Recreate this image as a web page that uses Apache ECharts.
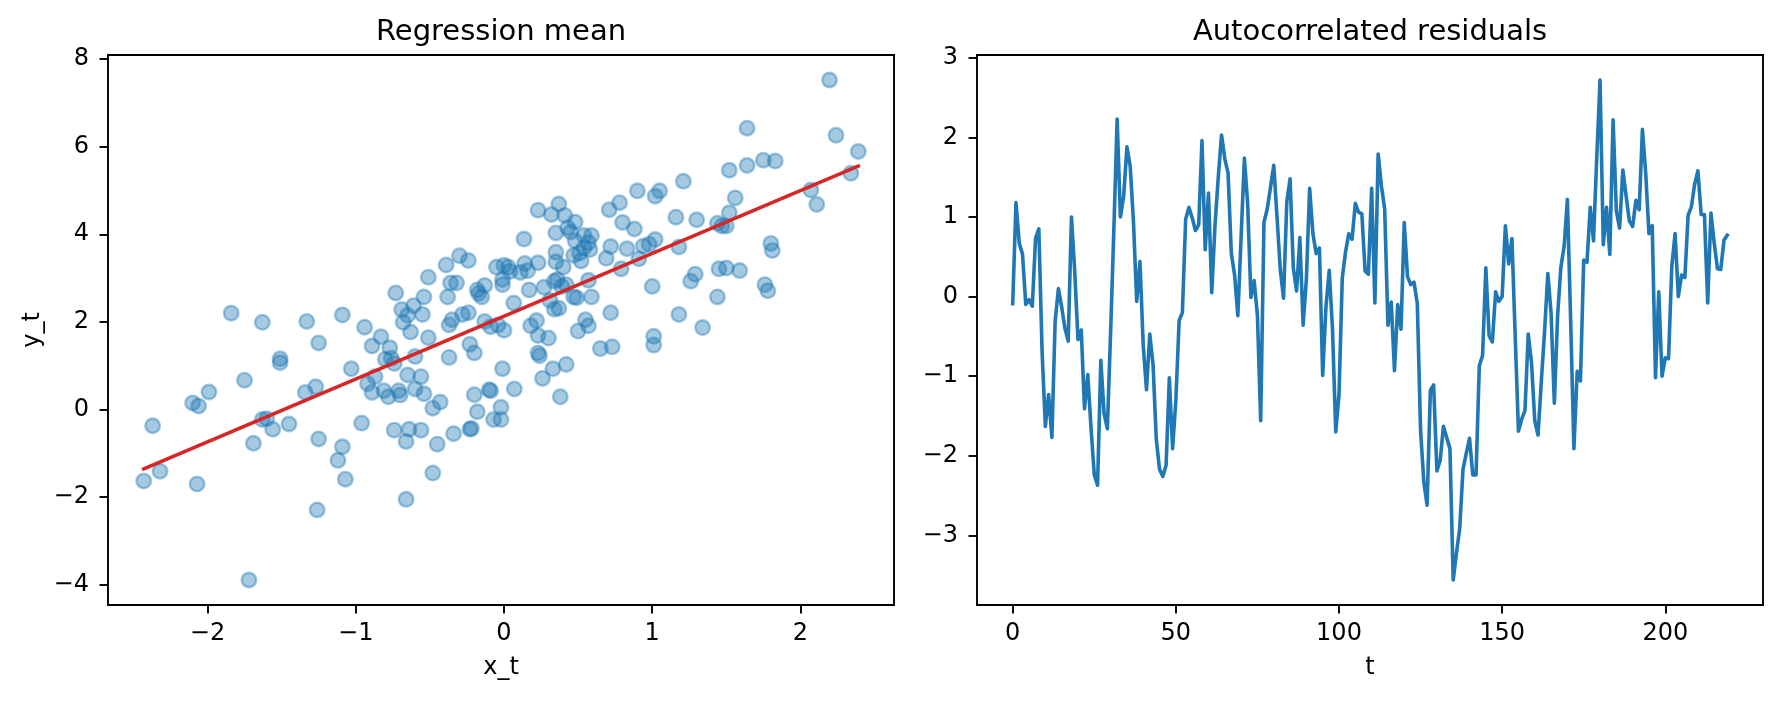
<!DOCTYPE html>
<html><head><meta charset="utf-8">
<script src="https://cdn.jsdelivr.net/npm/echarts@6/dist/echarts.min.js"></script>
<style>html,body{margin:0;padding:0;background:#fff}#c{width:1781px;height:701px}</style>
</head><body><div id="c"></div>
<script>
// ---- data ----
const scatterX = [
-2.43,-2.32,-2.37,-2.07,-2.10,-2.06,-1.99,-1.84,-1.75,-1.72,
-1.69,-1.63,-1.63,-1.60,-1.56,-1.51,-1.51,-1.45,-1.33,-1.34,
-1.27,-1.26,-1.25,-1.25,-1.09,-1.12,-1.09,-1.07,-1.03,-0.96,
-0.94,-0.89,-0.83,-0.92,-0.89,-0.87,-0.80,-0.77,-0.76,-0.74,
-0.81,-0.78,-0.71,-0.70,-0.74,-0.73,-0.69,-0.65,-0.68,-0.63,
-0.61,-0.65,-0.64,-0.66,-0.66,-0.60,-0.60,-0.56,-0.54,-0.56,
-0.54,-0.55,-0.51,-0.51,-0.48,-0.43,-0.45,-0.48,-0.39,-0.38,
-0.37,-0.37,-0.35,-0.36,-0.32,-0.30,-0.24,-0.28,-0.24,-0.34,
-0.23,-0.20,-0.20,-0.18,-0.22,-0.23,-0.18,-0.15,-0.13,-0.17,
-0.13,-0.09,-0.04,-0.01,-0.09,-0.10,-0.02,-0.07,-0.02,-0.05,
0.00,-0.01,-0.01,0.00,
2.196,1.64,2.24,2.39,1.52,1.64,1.75,1.83,2.34,1.21,
2.07,2.11,0.90,1.02,1.05,1.56,0.78,0.71,1.52,1.16,
1.30,1.44,1.47,1.50,0.80,0.88,0.23,0.37,0.32,0.41,
0.48,0.43,0.45,0.35,0.135,0.48,0.54,0.59,0.57,0.54,
0.58,0.51,0.52,0.47,0.35,0.35,0.40,0.34,0.36,0.39,
0.42,0.57,0.47,0.49,0.59,0.27,0.17,0.23,0.14,0.11,
0.16,0.03,0.04,0.066,0.31,0.34,0.37,0.69,0.72,0.83,
0.79,0.91,0.94,0.98,1.02,1.18,0.72,1.00,1.26,1.29,
1.18,1.34,1.44,1.45,1.50,1.59,1.76,1.78,1.80,1.81,
1.01,1.01,0.73,0.65,0.55,0.57,0.50,0.18,0.22,0.23,
0.30,0.23,0.24,0.07,0.33,0.42,0.26,0.38
];
const scatterY = [
-1.63,-1.41,-0.37,-1.70,0.15,0.08,0.40,2.20,0.67,-3.89,
-0.77,1.99,-0.23,-0.21,-0.45,1.16,1.07,-0.33,2.01,0.39,
0.52,-2.29,1.52,-0.67,2.16,-1.16,-0.85,-1.59,0.93,-0.31,
1.88,1.45,1.66,0.59,0.39,0.75,1.15,1.41,1.17,1.05,
0.43,0.29,0.43,0.33,-0.47,2.66,2.28,2.15,1.99,1.77,
2.37,0.79,-0.45,-0.73,-2.05,1.21,0.47,0.75,0.36,-0.47,
2.57,2.17,1.64,3.02,0.03,0.17,-0.79,-1.45,3.30,2.57,
1.19,1.93,2.05,2.89,2.89,3.51,3.40,2.17,2.21,-0.55,
1.49,1.29,0.34,-0.05,-0.43,-0.45,2.73,2.57,2.83,2.65,
2.01,1.89,1.93,0.93,0.43,0.45,0.05,-0.23,-0.23,3.25,
3.29,2.97,2.85,1.81,
7.52,6.42,6.26,5.89,5.46,5.57,5.69,5.67,5.39,5.21,
5.01,4.68,4.99,4.87,4.99,4.83,4.72,4.56,4.49,4.39,
4.33,4.25,4.19,4.19,4.27,4.12,4.55,4.69,4.45,4.43,
4.28,4.15,4.05,4.03,3.89,3.85,3.97,3.97,3.81,3.69,
3.65,3.57,3.39,3.52,3.59,3.37,3.25,2.93,2.97,2.81,
2.85,2.95,2.57,2.55,2.57,2.79,2.73,3.35,3.33,3.13,
3.17,3.25,3.15,2.43,2.49,2.29,2.31,3.45,3.72,3.67,
3.21,3.44,3.73,3.77,3.88,3.71,2.21,2.81,2.93,3.09,
2.17,1.87,2.57,3.21,3.23,3.17,2.85,2.71,3.79,3.63,
1.67,1.47,1.43,1.39,2.05,1.91,1.79,1.91,2.03,1.69,
1.63,1.29,1.23,0.47,0.93,1.03,0.71,0.29
];
const fitIntercept = 2.13;
const fitSlope = 1.434;
const residuals = [
-0.09,1.18,0.67,0.53,-0.10,-0.04,-0.12,0.73,0.85,-0.69,
-1.63,-1.23,-1.77,-0.31,0.10,-0.13,-0.40,-0.56,1.00,0.32,
-0.54,-0.42,-1.41,-0.98,-1.65,-2.24,-2.37,-0.80,-1.47,-1.66,
-0.45,0.85,2.23,1.00,1.26,1.88,1.64,0.94,-0.06,0.44,
-0.62,-1.17,-0.47,-0.85,-1.79,-2.17,-2.26,-2.12,-1.02,-1.91,
-1.30,-0.30,-0.20,0.97,1.12,0.99,0.83,0.90,1.96,0.59,
1.30,0.05,0.90,1.50,2.03,1.73,1.55,0.54,0.27,-0.24,
0.75,1.74,1.17,-0.01,0.20,-0.24,-1.56,0.93,1.10,1.37,
1.65,1.00,0.34,-0.02,1.19,1.48,0.36,0.07,0.74,-0.36,
0.22,1.36,0.79,0.54,0.61,-0.99,-0.13,0.33,-0.40,-1.70,
-1.23,0.23,0.56,0.79,0.72,1.17,1.06,1.04,0.32,0.28,
1.36,-0.08,1.79,1.39,1.10,-0.36,-0.07,-0.93,-0.10,-0.41,
0.93,0.25,0.15,0.18,-0.09,-1.68,-2.33,-2.62,-1.18,-1.11,
-2.19,-2.06,-1.63,-1.77,-1.91,-3.56,-3.22,-2.91,-2.17,-1.97,
-1.78,-2.24,-2.24,-0.87,-0.74,0.36,-0.49,-0.57,0.06,-0.06,
0.00,0.89,0.41,0.73,-0.49,-1.69,-1.54,-1.43,-0.47,-0.83,
-1.56,-1.74,-1.07,-0.44,0.29,-0.21,-1.34,-0.24,0.37,0.63,
1.22,-0.30,-1.91,-0.94,-1.06,0.46,0.43,1.12,0.70,1.75,
2.72,0.65,1.12,0.53,2.22,1.08,0.86,1.59,1.26,0.95,
0.88,1.21,1.09,2.10,1.55,0.79,0.89,-1.02,0.06,-1.00,
-0.77,-0.78,0.38,0.79,0.00,0.27,0.24,1.02,1.13,1.41,
1.58,1.03,1.03,-0.08,1.05,0.67,0.35,0.34,0.71,0.77
];
const xTicksLeft = [-2,-1,0,1,2];
const yTicksLeft = [-4,-2,0,2,4,6,8];
const xTicksRight = [0,50,100,150,200];
const yTicksRight = [-3,-2,-1,0,1,2,3];
const titles = ['Regression mean', 'Autocorrelated residuals'];
const axisNames = {leftX: 'x_t', leftY: 'y_t', rightX: 't'};

// ---- build ----
function limits(arr) {
  const mn = Math.min(...arr), mx = Math.max(...arr), m = (mx - mn) * 0.05;
  return [mn - m, mx + m];
}
const fmt = v => (v < 0 ? '\u2212' + Math.abs(v) : String(v));
const FONT = 'DejaVu Sans';
const tIdx = residuals.map((_, i) => i);
const [lxMin, lxMax] = limits(scatterX);
const [lyMin, lyMax] = limits(scatterY);
const [rxMin, rxMax] = limits(tIdx);
const [ryMin, ryMax] = limits(residuals);

function valAxis(grid, min, max, ticks, margin, extra) {
  return Object.assign({
    type: 'value', gridIndex: grid, min: min, max: max, scale: true,
    axisLine: {show: false, onZero: false},
    splitLine: {show: false},
    axisTick: {show: true, length: 8.5, customValues: ticks, lineStyle: {color: '#000', width: 1.9}},
    axisLabel: {customValues: ticks, formatter: fmt, color: '#000', fontFamily: FONT, fontSize: 24, margin: margin},
    nameTextStyle: {color: '#000', fontFamily: FONT, fontSize: 24}
  }, extra || {});
}

const xMinData = Math.min(...scatterX), xMaxData = Math.max(...scatterX);
const fitLine = [xMinData, xMaxData].map(x => [x, fitIntercept + fitSlope * x]);

const chart = echarts.init(document.getElementById('c'), null, {renderer: 'canvas'});
const titleStyle = {color: '#000', fontFamily: FONT, fontSize: 29, fontWeight: 'normal'};
chart.setOption({
  animation: false,
  backgroundColor: '#fff',
  title: [
    {text: titles[0], left: 501, top: 18, textAlign: 'center', padding: 0, textStyle: titleStyle},
    {text: titles[1], left: 1370, top: 18, textAlign: 'center', padding: 0, textStyle: titleStyle}
  ],
  grid: [
    {left: 108, top: 55, width: 786, height: 550, show: true, borderColor: '#000', borderWidth: 1.9, backgroundColor: 'transparent'},
    {left: 977, top: 55, width: 786, height: 550, show: true, borderColor: '#000', borderWidth: 1.9, backgroundColor: 'transparent'}
  ],
  xAxis: [
    valAxis(0, lxMin, lxMax, xTicksLeft, 17, {name: axisNames.leftX, nameLocation: 'middle', nameGap: 51}),
    valAxis(1, rxMin, rxMax, xTicksRight, 17, {name: axisNames.rightX, nameLocation: 'middle', nameGap: 51})
  ],
  yAxis: [
    valAxis(0, lyMin, lyMax, yTicksLeft, 19, {name: axisNames.leftY, nameLocation: 'middle', nameRotate: 90, nameGap: 63}),
    valAxis(1, ryMin, ryMax, yTicksRight, 19)
  ],
  series: [
    {
      type: 'scatter', xAxisIndex: 0, yAxisIndex: 0, silent: true,
      data: scatterX.map((x, i) => [x, scatterY[i]]),
      symbol: 'circle', symbolSize: 14.6,
      itemStyle: {color: 'rgba(31,119,180,0.5)', borderColor: 'rgba(31,119,180,0.5)', borderWidth: 2.4}
    },
    {
      type: 'line', xAxisIndex: 0, yAxisIndex: 0, silent: true, showSymbol: false,
      data: fitLine,
      lineStyle: {color: '#d62728', width: 3.6, cap: 'square'}
    },
    {
      type: 'line', xAxisIndex: 1, yAxisIndex: 1, silent: true, showSymbol: false,
      data: residuals.map((v, i) => [tIdx[i], v]),
      lineStyle: {color: '#1f77b4', width: 3.6, join: 'round', cap: 'square'}
    }
  ]
});
</script></body></html>
